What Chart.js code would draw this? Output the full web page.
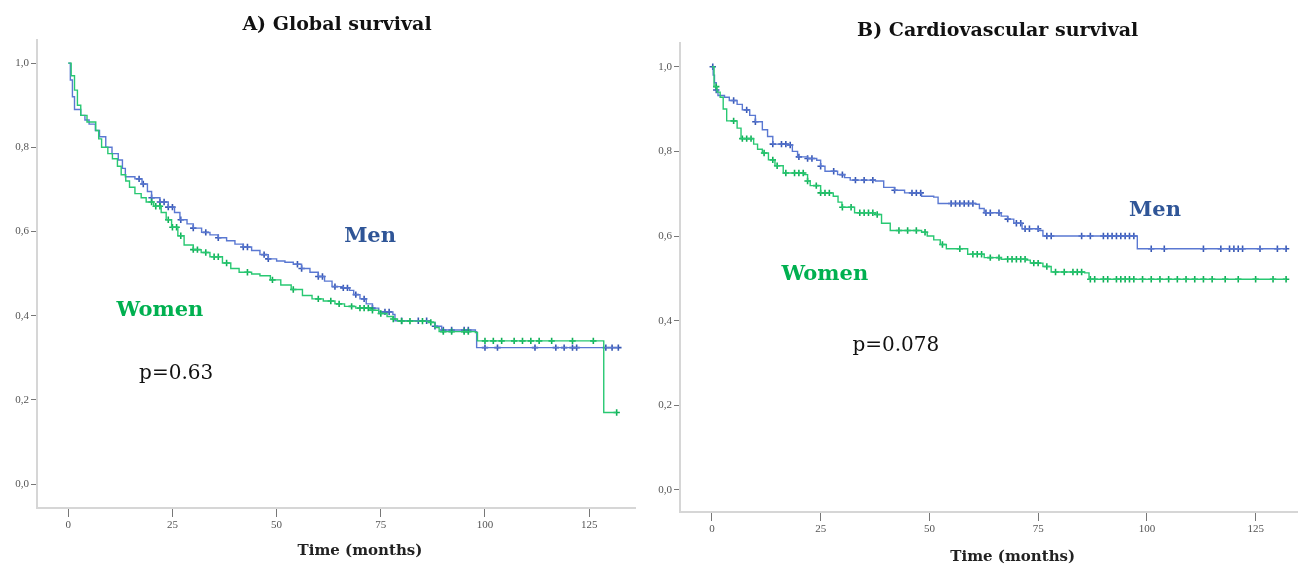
<!DOCTYPE html>
<html>
<head>
<meta charset="utf-8">
<script src="https://cdn.jsdelivr.net/npm/chart.js@4.4.1/dist/chart.umd.min.js"></script>
<style>
  html, body { margin: 0; padding: 0; background: #ffffff; }
  #wrap { position: relative; width: 1303px; height: 565px; background: #fff; }
  #c1 { position: absolute; left: 0; top: 0; }
  #c2 { position: absolute; left: 651px; top: 0; }
</style>
</head>
<body>
<div id="wrap">
  <canvas id="c1" width="651" height="565"></canvas>
  <canvas id="c2" width="652" height="565"></canvas>
</div>
<script>
// ---------- DATA ----------
const xTicks = [0, 25, 50, 75, 100, 125];
const yTicks = [0, 0.2, 0.4, 0.6, 0.8, 1.0];

const panelTitles = ['A) Global survival', 'B) Cardiovascular survival'];
const xAxisTitle = 'Time (months)';
const groupNames = ['Men', 'Women'];
const pValues = ['p=0.63', 'p=0.078'];

// A) Global survival - Men
const globalMenTime = [0, 0.5, 1, 1.5, 3, 4, 5, 6.5, 7.5, 9, 10.5, 12, 13, 13.7, 16, 17.7, 19, 20, 22, 24, 25.5, 26.8, 28.5, 30, 32, 34, 36, 38, 40, 42, 44, 46, 48, 50, 52, 54, 56, 58, 60, 61.5, 63.3, 66, 67.5, 68.5, 70, 71.5, 73, 74.5, 77.9, 78.4, 86.5, 88, 89.6, 97.7, 98, 132];
const globalMenSurv = [1.0, 0.96, 0.92, 0.89, 0.876, 0.865, 0.855, 0.84, 0.825, 0.80, 0.785, 0.77, 0.75, 0.73, 0.725, 0.713, 0.695, 0.68, 0.67, 0.658, 0.645, 0.628, 0.618, 0.608, 0.598, 0.592, 0.585, 0.578, 0.57, 0.563, 0.555, 0.545, 0.535, 0.53, 0.527, 0.522, 0.512, 0.503, 0.493, 0.482, 0.469, 0.466, 0.46, 0.45, 0.44, 0.428, 0.418, 0.409, 0.403, 0.388, 0.384, 0.375, 0.366, 0.362, 0.324, 0.324];
const globalMenCensor = [17, 18, 20, 22, 23, 24, 25, 27, 30, 33, 36, 42, 43, 47, 48, 55, 56, 60, 61, 64, 66, 67, 69, 71, 73, 76, 77, 80, 84, 86, 88, 90, 92, 95, 96, 100, 103, 112, 117, 119, 121, 122, 129, 130.5, 132];

// A) Global survival - Women
const globalWomenTime = [0, 0.7, 1.5, 2.2, 3, 4.5, 6.6, 7.3, 8, 9.5, 10.6, 11.8, 12.7, 13.8, 14.7, 16, 17.5, 18.7, 20.5, 22.3, 23.5, 24.8, 26.3, 27.8, 30, 31.9, 34, 37, 39, 41, 44, 46, 48.5, 51, 53.5, 56.2, 58.5, 61.2, 64, 66.3, 69, 72.4, 74.5, 76.5, 77.9, 79, 86.5, 88, 89, 97.7, 98.2, 128.5, 131.6];
const globalWomenSurv = [1.0, 0.97, 0.936, 0.90, 0.876, 0.86, 0.84, 0.82, 0.80, 0.785, 0.773, 0.755, 0.735, 0.72, 0.705, 0.69, 0.68, 0.67, 0.66, 0.645, 0.628, 0.61, 0.59, 0.568, 0.557, 0.55, 0.54, 0.525, 0.512, 0.503, 0.499, 0.495, 0.485, 0.473, 0.462, 0.448, 0.44, 0.435, 0.428, 0.422, 0.418, 0.413, 0.405, 0.398, 0.392, 0.387, 0.384, 0.372, 0.362, 0.36, 0.34, 0.17, 0.17];
const globalWomenCensor = [20, 21, 22, 24, 25, 26, 27, 30, 31, 33, 35, 36, 38, 43, 49, 54, 60, 63, 65, 68, 70, 71, 72, 73, 75, 78, 80, 82, 85, 87, 90, 92, 95, 96, 100, 102, 104, 107, 109, 111, 113, 116, 121, 126, 131.6];

// B) Cardiovascular survival - Men
const cvMenTime = [0, 0.3, 0.6, 1, 1.4, 2.9, 4, 5.8, 7, 8.7, 10, 11.6, 12.8, 14, 17.3, 18.5, 19.7, 22, 24.1, 25, 26, 28.9, 30.5, 31.8, 37.6, 39.5, 42, 44.3, 48.2, 51, 52, 60.7, 61.5, 62.6, 66.5, 68, 69.4, 71.3, 75.1, 76.1, 97.3, 97.8, 132];
const cvMenSurv = [1.0, 0.98, 0.962, 0.945, 0.932, 0.928, 0.92, 0.911, 0.898, 0.885, 0.87, 0.851, 0.835, 0.817, 0.815, 0.80, 0.787, 0.783, 0.779, 0.765, 0.753, 0.745, 0.738, 0.732, 0.73, 0.715, 0.708, 0.702, 0.694, 0.692, 0.677, 0.675, 0.665, 0.655, 0.647, 0.64, 0.63, 0.617, 0.613, 0.60, 0.60, 0.57, 0.57];
const cvMenCensor = [0.2, 1, 5, 8, 10, 14, 16, 17, 18, 20, 22, 23, 25, 28, 30, 33, 35, 37, 42, 46, 47, 48, 55, 56, 57, 58, 59, 60, 63, 64, 66, 68, 70, 71, 72, 73, 75, 77, 78, 85, 87, 90, 91, 92, 93, 94, 95, 96, 97, 101, 104, 113, 117, 119, 120, 121, 122, 126, 130, 132];

// B) Cardiovascular survival - Women
const cvWomenTime = [0, 0.5, 1.2, 1.9, 2.6, 3.4, 5.8, 6.7, 9.6, 10.5, 11.6, 13, 14.5, 16.4, 21.2, 22, 22.6, 25, 27.9, 29, 29.9, 32.8, 37.6, 39, 41, 48.2, 49.5, 51, 52.5, 53.9, 58.8, 62.6, 66.5, 72.3, 73.2, 76.1, 78, 85.7, 86.7, 132];
const cvWomenSurv = [1.0, 0.953, 0.94, 0.928, 0.90, 0.872, 0.855, 0.83, 0.817, 0.805, 0.796, 0.78, 0.766, 0.749, 0.745, 0.73, 0.719, 0.702, 0.694, 0.68, 0.668, 0.655, 0.651, 0.63, 0.613, 0.609, 0.60, 0.591, 0.58, 0.57, 0.557, 0.549, 0.545, 0.543, 0.536, 0.528, 0.515, 0.513, 0.498, 0.498];
const cvWomenCensor = [1, 5, 7, 8, 9, 12, 14, 15, 17, 19, 20, 21, 22, 24, 25, 26, 27, 30, 32, 34, 35, 36, 37, 38, 43, 45, 47, 49, 53, 57, 60, 61, 62, 64, 66, 68, 69, 70, 71, 72, 74, 75, 77, 79, 81, 83, 84, 85, 87, 88, 90, 91, 93, 94, 95, 96, 97, 99, 101, 103, 105, 107, 109, 111, 113, 115, 118, 121, 125, 129, 132];

// ---------- STYLE ----------
const MEN_LINE = '#5a78d2';
const MEN_MARK = '#3858b4';
const MEN_TEXT = '#2f5597';
const WOMEN_LINE = '#28c872';
const WOMEN_MARK = '#10b058';
const WOMEN_TEXT = '#00b050';
const SERIF = '"DejaVu Serif", "Liberation Serif", serif';
const TICKFONT = '"Liberation Serif", "DejaVu Serif", serif';

function toPoints(times, surv) {
  return times.map((t, i) => ({ x: t, y: surv[i] }));
}
// value of the KM step function at time t (curve value after the last event <= t)
function stepValue(times, surv, t) {
  let v = surv[0];
  for (let i = 0; i < times.length; i++) {
    if (times[i] <= t) v = surv[i]; else break;
  }
  return v;
}
function censorPoints(censor, times, surv) {
  return censor.map(t => ({ x: t, y: stepValue(times, surv, t) }));
}

// in-plot labels (data coords) + panel titles / axis title (offsets from chart-area centre)
const textPlugin = {
  id: 'kmText',
  afterDatasetsDraw(chart, args, opts) {
    const { ctx, scales, chartArea } = chart;
    ctx.save();
    (opts.items || []).forEach(it => {
      ctx.font = it.font;
      ctx.fillStyle = it.color;
      ctx.textAlign = 'left';
      ctx.textBaseline = 'middle';
      ctx.fillText(it.text, scales.x.getPixelForValue(it.x), scales.y.getPixelForValue(it.y));
    });
    const cx = (chartArea.left + chartArea.right) / 2;
    ctx.textAlign = 'center';
    ctx.textBaseline = 'middle';
    ctx.fillStyle = '#111';
    ctx.font = 'bold 19px ' + SERIF;
    ctx.fillText(opts.title, cx + opts.titleDx, opts.titleY);
    ctx.fillStyle = '#222';
    ctx.font = 'bold 15px ' + SERIF;
    ctx.fillText(xAxisTitle, cx + opts.axisTitleDx, opts.axisTitleY);
    ctx.restore();
  }
};

function makeChart(id, p) {
  const ctx = document.getElementById(id);
  return new Chart(ctx, {
    type: 'line',
    data: {
      datasets: [
        { label: 'Men', data: toPoints(p.menT, p.menS), borderColor: MEN_LINE, borderWidth: 1.4,
          stepped: 'before', pointRadius: 0, fill: false, order: 2 },
        { label: 'Women', data: toPoints(p.womT, p.womS), borderColor: WOMEN_LINE, borderWidth: 1.4,
          stepped: 'before', pointRadius: 0, fill: false, order: 1 },
        { label: 'Men censored', type: 'scatter', data: censorPoints(p.menC, p.menT, p.menS),
          pointStyle: 'cross', pointRadius: 3.2, borderWidth: 1.6, borderColor: MEN_MARK, showLine: false, order: 2 },
        { label: 'Women censored', type: 'scatter', data: censorPoints(p.womC, p.womT, p.womS),
          pointStyle: 'cross', pointRadius: 3.2, borderWidth: 1.6, borderColor: WOMEN_MARK, showLine: false, order: 1 }
      ]
    },
    options: {
      responsive: false,
      animation: false,
      events: [],
      layout: { padding: { left: 0, right: p.padRight, top: p.padTop, bottom: 0 } },
      plugins: {
        legend: { display: false },
        tooltip: { enabled: false },
        title: { display: false },
        kmText: { items: p.labels, title: p.title, titleDx: p.titleDx, titleY: p.titleY,
                  axisTitleDx: p.axisTitleDx, axisTitleY: p.axisTitleY }
      },
      scales: {
        x: {
          type: 'linear', min: p.xMin, max: p.xMax,
          afterBuildTicks: s => { s.ticks = xTicks.map(v => ({ value: v })); },
          afterFit: s => { s.height = p.xHeight; },
          border: { display: true, color: '#d6d6d6', width: 2 },
          grid: { display: true, drawOnChartArea: false, drawTicks: true, tickLength: 9, color: '#777', tickColor: '#777', lineWidth: 1 },
          ticks: { color: '#555', font: { family: TICKFONT, size: 11 }, padding: 2, maxRotation: 0, autoSkip: false,
                   callback: v => String(v) },
          title: { display: false }
        },
        y: {
          type: 'linear', min: p.yMin, max: p.yMax,
          afterBuildTicks: s => { s.ticks = yTicks.map(v => ({ value: v })); },
          afterFit: s => { s.width = p.yWidth; },
          border: { display: true, color: '#d6d6d6', width: 2 },
          grid: { display: true, drawOnChartArea: false, drawTicks: true, tickLength: 6, color: '#777', tickColor: '#777', lineWidth: 1 },
          ticks: { color: '#555', font: { family: TICKFONT, size: 11 }, padding: 2, autoSkip: false,
                   callback: v => v.toFixed(1).replace('.', ',') }
        }
      }
    },
    plugins: [textPlugin]
  });
}

makeChart('c1', {
  title: panelTitles[0], titleDx: 1, titleY: 25, padTop: 40,
  axisTitleDx: 24, axisTitleY: 551,
  menT: globalMenTime, menS: globalMenSurv, menC: globalMenCensor,
  womT: globalWomenTime, womS: globalWomenSurv, womC: globalWomenCensor,
  xMin: -7.5, xMax: 136, yMin: -0.057, yMax: 1.055,
  xHeight: 57, yWidth: 37, padRight: 16,
  labels: [
    { text: groupNames[0], x: 66.2, y: 0.589, color: MEN_TEXT, font: 'bold 21px ' + SERIF },
    { text: groupNames[1], x: 11.6, y: 0.413, color: WOMEN_TEXT, font: 'bold 21px ' + SERIF },
    { text: pValues[0], x: 17.0, y: 0.262, color: '#111', font: '20px ' + SERIF }
  ]
});

makeChart('c2', {
  title: panelTitles[1], titleDx: 9, titleY: 31, padTop: 43,
  axisTitleDx: 24, axisTitleY: 557,
  menT: cvMenTime, menS: cvMenSurv, menC: cvMenCensor,
  womT: cvWomenTime, womS: cvWomenSurv, womC: cvWomenCensor,
  xMin: -7.33, xMax: 134.6, yMin: -0.052, yMax: 1.056,
  xHeight: 53, yWidth: 29, padRight: 3,
  labels: [
    { text: groupNames[0], x: 95.9, y: 0.660, color: MEN_TEXT, font: 'bold 21px ' + SERIF },
    { text: groupNames[1], x: 16.0, y: 0.509, color: WOMEN_TEXT, font: 'bold 21px ' + SERIF },
    { text: pValues[1], x: 32.3, y: 0.340, color: '#111', font: '20px ' + SERIF }
  ]
});
</script>
</body>
</html>
